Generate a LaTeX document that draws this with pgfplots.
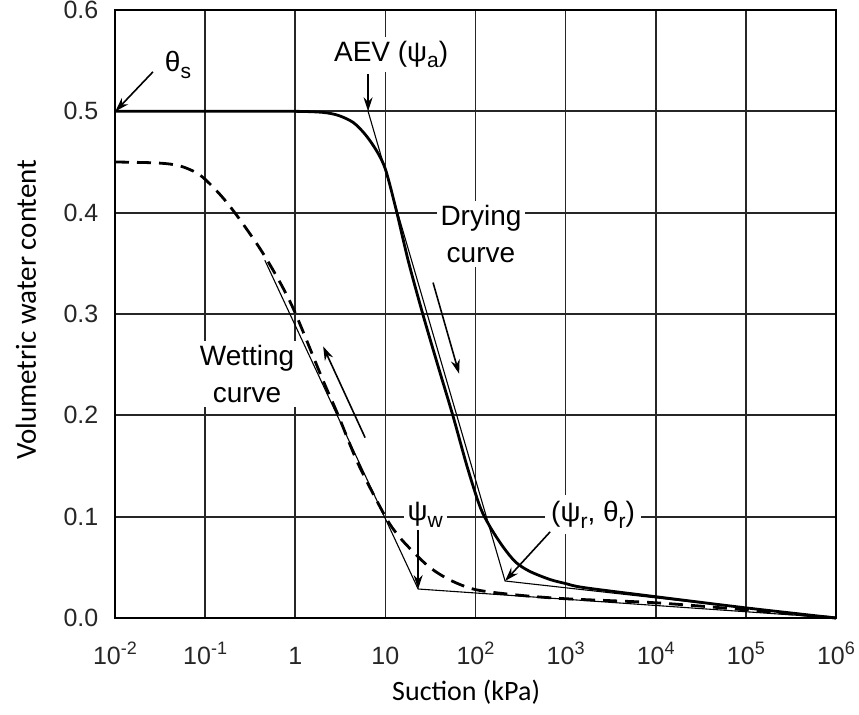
\documentclass[border=0pt]{standalone}
\usepackage{pgfplots}
\pgfplotsset{compat=1.18}
\usepackage{graphicx}
\usepackage{fontspec}
\setmainfont{Liberation Sans}
\newfontfamily\carlito{Carlito}
\usetikzlibrary{arrows.meta}
\newcommand\sub[1]{\raisebox{-0.45ex}{\fontsize{10.5}{10.5}\selectfont #1}}
\newcommand\sups[1]{\raisebox{0.8ex}{\fontsize{9}{9}\selectfont #1}}

\begin{document}
\begin{tikzpicture}
\begin{axis}[
  scale only axis, width=360.5pt, height=304pt,
  xmode=log, xmin=1e-2, xmax=1e6, ymin=0, ymax=0.6,
  xtick={1e-2,1e-1,1,10,1e2,1e3,1e4,1e5,1e6},
  xticklabels={10\sups{-2},10\sups{-1},1,10,10\sups{2},10\sups{3},10\sups{4},10\sups{5},10\sups{6}},
  ytick={0,0.1,0.2,0.3,0.4,0.5,0.6},
  yticklabel style={/pgf/number format/fixed, /pgf/number format/fixed zerofill, /pgf/number format/precision=1, /pgf/number format/assume math mode=true, anchor=east, xshift=-4.8pt},
  ticklabel style={font=\fontsize{12.5}{12.5}\selectfont, text=black!85},
  xticklabel style={anchor=base, yshift=-23.5pt},
  tick style={draw=none},
  minor tick num=0,
  grid=major,
  major grid style={line width=0.85pt, color=black!85},
  axis line style={line width=1pt, black},
  every axis x label/.style={at={(axis description cs:0.487,-0.1349)}, anchor=base},
  every axis y label/.style={at={(axis description cs:-0.1234,0.507)}, anchor=center, rotate=90},
  xlabel={Suction (kPa)},
  ylabel={Volumetric water content},
  xlabel style={font=\carlito\fontsize{14}{14}\selectfont},
  ylabel style={font=\carlito\fontsize{14.5}{14.5}\selectfont},
  clip=false,
]
\coordinate (O) at (rel axis cs:0,0);

% labels with white background
\node[fill=white, inner sep=2pt, font=\fontsize{14}{14}\selectfont] at (axis cs:11.6,0.556) {AEV (ψ\sub{a})};
\node[fill=white, inner sep=2pt, align=center, font=\fontsize{14}{18.5}\selectfont] at (axis cs:115,0.379) {Drying\\curve};
\node[fill=white, inner sep=2pt, align=center, font=\fontsize{14}{18.5}\selectfont] at (axis cs:0.292,0.241) {Wetting\\curve};
\node[fill=white, inner sep=2pt, font=\fontsize{14}{14}\selectfont] at (axis cs:27.6,0.102) {ψ\sub{w}};
\node[fill=white, inner sep=3pt, font=\fontsize{14}{14}\selectfont] at (axis cs:2018,0.102) {(ψ\sub{r}, θ\sub{r})};
\node[inner sep=1pt, font=\fontsize{14}{14}\selectfont] at (axis cs:0.05,0.546) {θ\sub{s}};

% thin construction lines
\addplot[black, line width=0.55pt] coordinates {(6.43,0.5) (213,0.0365) (1e6,0)};
\addplot[black, line width=0.55pt] coordinates {(0.46,0.353) (23.1,0.0286) (1e6,0)};

% drying curve
\addplot[black, line width=1.4pt, smooth, tension=0.5] coordinates {
(0.01,0.5) (0.3,0.5) (1,0.5) (2,0.499) (3,0.496) (4.4,0.489) (6,0.477) (8,0.461) (10,0.443)
(13,0.405) (18,0.352) (26,0.30) (38,0.25) (56,0.20) (81,0.149) (112,0.11) (145,0.090)
(203,0.070) (280,0.055) (400,0.046) (670,0.038) (1000,0.034) (1600,0.030) (1e4,0.021)
(1e5,0.010) (1e6,0.0)};

% wetting curve
\addplot[black, line width=1.4pt, dash pattern=on 7pt off 4pt, smooth, tension=0.5] coordinates {
(0.01,0.45) (0.03,0.449) (0.053,0.446) (0.088,0.437) (0.146,0.418) (0.226,0.397) (0.41,0.364)
(0.67,0.332) (1,0.301) (2,0.236) (3,0.20) (5,0.152) (10,0.10) (14,0.081) (20,0.066) (31,0.05)
(52,0.0375) (100,0.028) (280,0.0228) (1000,0.019) (1e4,0.015) (1e5,0.008) (1e6,0.0)};

% arrows
\draw[-{Stealth[length=7pt,width=4.5pt]}, line width=0.8pt] (axis cs:0.0264,0.539) -- (axis cs:0.0101,0.5);
\draw[-{Stealth[length=7pt,width=4.5pt]}, line width=0.8pt] (axis cs:6.43,0.537) -- (axis cs:6.43,0.5);
\draw[-{Stealth[length=7pt,width=4.5pt]}, line width=0.8pt] (axis cs:33.8,0.331) -- (axis cs:65.8,0.241);
\draw[-{Stealth[length=7pt,width=4.5pt]}, line width=0.8pt] (axis cs:5.96,0.178) -- (axis cs:2.04,0.268);
\draw[-{Stealth[length=7pt,width=4.5pt]}, line width=0.8pt] (axis cs:23.1,0.087) -- (axis cs:23.1,0.0286);
\draw[-{Stealth[length=7pt,width=4.5pt]}, line width=0.8pt] (axis cs:673,0.085) -- (axis cs:213,0.0365);
\end{axis}
\pgfresetboundingbox
\path[use as bounding box] (O) ++(-57.5pt,-48.5pt) rectangle ++(429.5pt,357.5pt);
\end{tikzpicture}
\end{document}
